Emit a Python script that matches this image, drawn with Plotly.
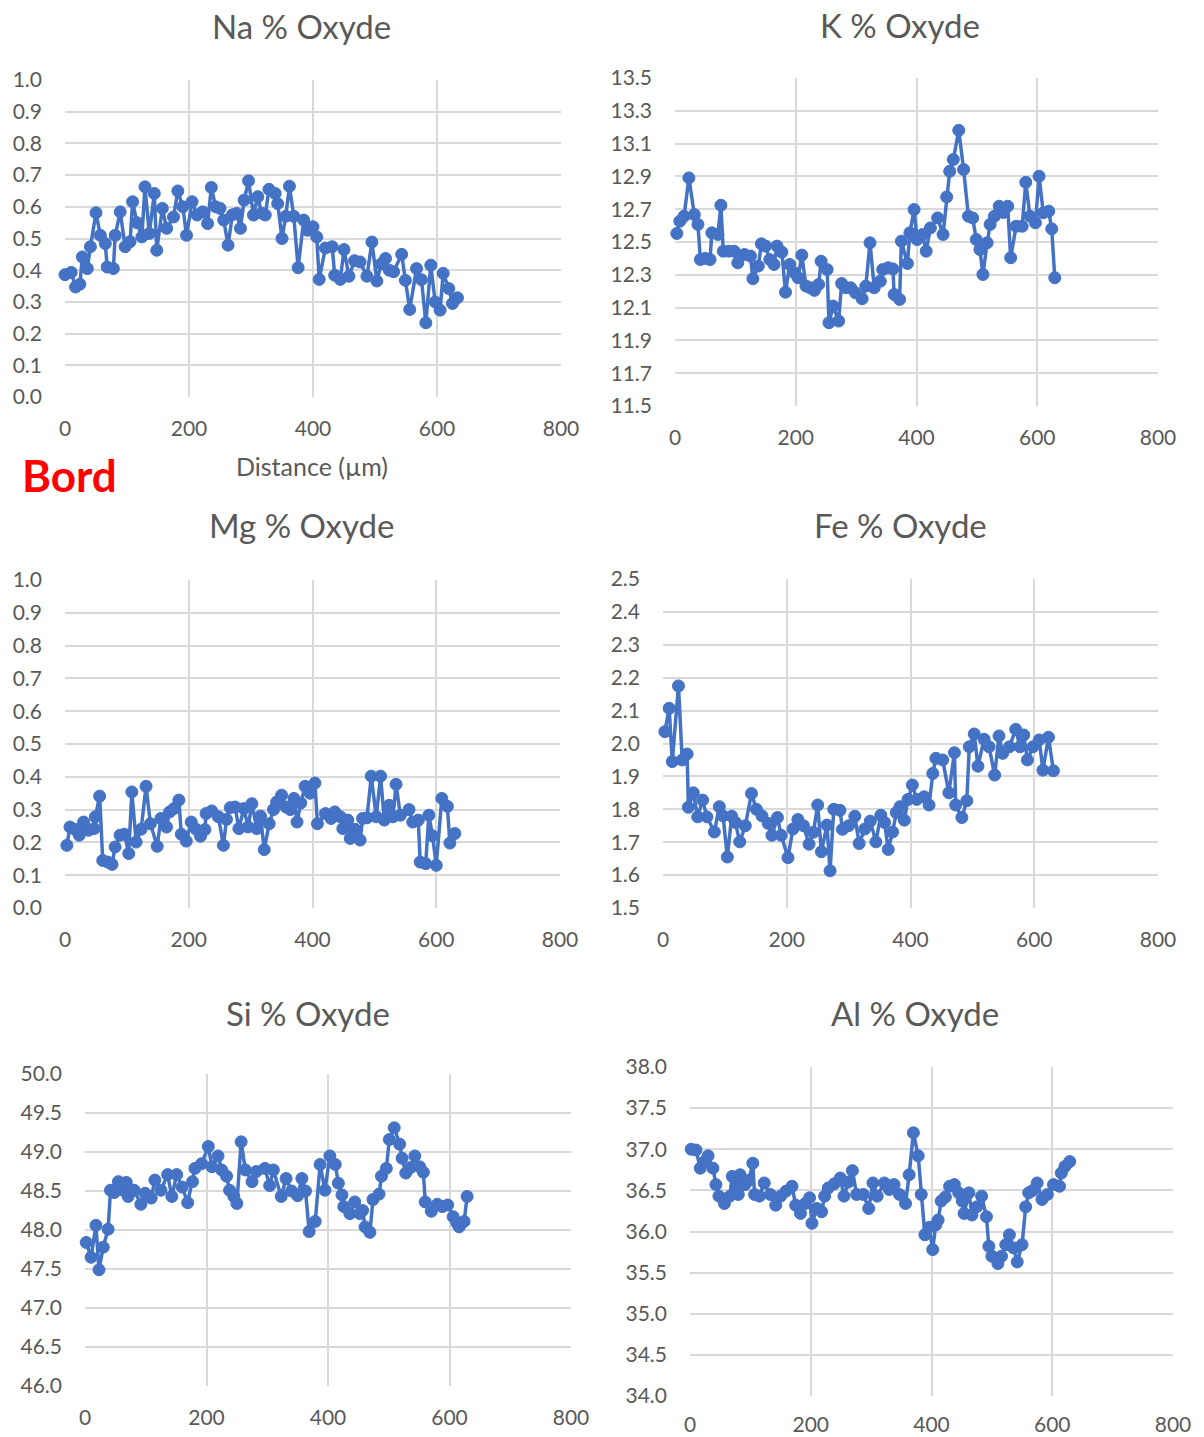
import plotly.graph_objects as go

W, H = 1204, 1437

# ---------------- data ----------------
na_x = [0, 10, 17, 24, 28, 36, 41, 50, 57, 65, 68, 78, 81, 89, 97, 105, 109, 116, 124, 129,
        136, 144, 148, 157, 164, 175, 182, 190, 196, 205, 213, 222, 230, 236, 243, 250, 256, 263, 270, 277,
        283, 289, 296, 304, 311, 317, 323, 329, 339, 343, 350, 356, 362, 369, 376, 385, 391, 400, 406, 410,
        420, 431, 435, 444, 450, 458, 467, 476, 487, 495, 503, 510, 517, 523, 530, 543, 549, 556, 567, 575,
        582, 590, 597, 605, 610, 619, 625, 633]
na_y = [0.386, 0.393, 0.347, 0.356, 0.442, 0.405, 0.474, 0.581, 0.51, 0.484,
        0.41, 0.405, 0.51, 0.584, 0.474, 0.49, 0.616, 0.55, 0.505, 0.663,
        0.516, 0.642, 0.463, 0.595, 0.532, 0.568, 0.65, 0.60, 0.51, 0.616,
        0.574, 0.584, 0.547, 0.661, 0.60, 0.595, 0.558, 0.479, 0.575, 0.579,
        0.532, 0.621, 0.682, 0.574, 0.632, 0.58, 0.574, 0.655, 0.642, 0.61,
        0.50, 0.57, 0.665, 0.57, 0.408, 0.558, 0.526, 0.537, 0.505, 0.371,
        0.47, 0.474, 0.384, 0.371, 0.465, 0.381, 0.43, 0.426, 0.381, 0.489,
        0.366, 0.42, 0.437, 0.40, 0.395, 0.45, 0.368, 0.276, 0.405, 0.37,
        0.234, 0.416, 0.30, 0.274, 0.39, 0.342, 0.295, 0.313]

k_x = [3, 8, 15, 23, 32, 38, 42, 50, 58, 61, 71, 76, 80, 89, 98, 104, 115, 125, 129, 138,
       143, 150, 157, 164, 169, 177, 183, 190, 198, 204, 210, 217, 224, 231, 238, 242, 252, 255, 262, 271,
       276, 283, 291, 299, 310, 316, 323, 330, 340, 344, 353, 361, 363, 372, 375, 385, 389, 396, 401, 410,
       416, 423, 435, 444, 450, 455, 461, 470, 478, 486, 493, 499, 505, 510, 517, 522, 529, 537, 544, 551,
       556, 565, 575, 581, 588, 597, 603, 610, 619, 624, 629]
k_y = [12.552, 12.627, 12.657, 12.891, 12.667, 12.607, 12.393, 12.40, 12.393, 12.556,
       12.546, 12.724, 12.444, 12.444, 12.444, 12.373, 12.424, 12.414, 12.276, 12.353,
       12.489, 12.475, 12.393, 12.363, 12.475, 12.438, 12.194, 12.363, 12.312, 12.282,
       12.42, 12.231, 12.221, 12.205, 12.241, 12.383, 12.332, 12.008, 12.109, 12.018,
       12.247, 12.221, 12.221, 12.19, 12.154, 12.231, 12.495, 12.221, 12.261, 12.332,
       12.343, 12.336, 12.18, 12.15, 12.505, 12.369, 12.556, 12.698, 12.515, 12.546,
       12.444, 12.586, 12.647, 12.546, 12.775, 12.931, 13.003, 13.181, 12.942, 12.657,
       12.647, 12.515, 12.454, 12.302, 12.495, 12.607, 12.657, 12.718, 12.68, 12.718,
       12.404, 12.596, 12.596, 12.864, 12.657, 12.617, 12.901, 12.678, 12.688, 12.58,
       12.282]

mg_x = [3, 8, 16, 23, 30, 38, 47, 49, 56, 61, 69, 76, 81, 89, 96, 103, 108, 115, 123, 131,
        138, 149, 155, 164, 169, 176, 184, 188, 196, 204, 212, 219, 226, 228, 237, 248, 256, 261, 267, 275,
        281, 289, 296, 302, 310, 316, 322, 330, 337, 342, 350, 357, 364, 370, 375, 381, 388, 396, 404, 408,
        421, 430, 436, 445, 449, 457, 461, 469, 477, 481, 488, 495, 503, 510, 516, 524, 530, 535, 542, 556,
        562, 571, 574, 583, 588, 594, 600, 609, 618, 622, 630]
mg_y = [0.191, 0.247, 0.24, 0.222, 0.262, 0.237, 0.242, 0.278, 0.341, 0.145,
        0.14, 0.133, 0.186, 0.222, 0.225, 0.166, 0.354, 0.201, 0.24, 0.371,
        0.257, 0.188, 0.273, 0.247, 0.293, 0.303, 0.329, 0.225, 0.204, 0.262,
        0.24, 0.219, 0.239, 0.288, 0.296, 0.278, 0.191, 0.27, 0.306, 0.308,
        0.242, 0.303, 0.247, 0.318, 0.242, 0.28, 0.178, 0.257, 0.30, 0.323,
        0.344, 0.308, 0.30, 0.334, 0.262, 0.32, 0.371, 0.35, 0.381, 0.257,
        0.288, 0.273, 0.293, 0.278, 0.242, 0.268, 0.212, 0.24, 0.207, 0.273,
        0.275, 0.402, 0.278, 0.402, 0.268, 0.313, 0.278, 0.377, 0.283, 0.3,
        0.262, 0.268, 0.14, 0.135, 0.283, 0.22, 0.13, 0.334, 0.31, 0.198,
        0.227]

fe_x = [3, 10, 15, 25, 31, 39, 41, 49, 56, 64, 71, 83, 91, 97, 104, 111, 117, 124, 133, 143,
        151, 160, 170, 176, 185, 191, 202, 210, 218, 227, 236, 243, 250, 256, 265, 270, 276, 286, 290, 300,
        310, 317, 326, 335, 344, 352, 358, 364, 371, 377, 383, 390, 396, 403, 410, 422, 430, 436, 441, 452,
        462, 471, 473, 483, 491, 495, 503, 509, 519, 527, 536, 543, 549, 560, 570, 577, 583, 589, 598, 608,
        614, 623, 631]
fe_y = [2.036, 2.107, 1.945, 2.175, 1.95, 1.968, 1.806, 1.85, 1.777, 1.828,
        1.777, 1.731, 1.808, 1.78, 1.655, 1.779, 1.76, 1.701, 1.75, 1.848,
        1.80, 1.78, 1.757, 1.721, 1.775, 1.721, 1.653, 1.74, 1.769, 1.75,
        1.694, 1.73, 1.813, 1.671, 1.752, 1.613, 1.8, 1.797, 1.739, 1.75,
        1.779, 1.696, 1.74, 1.764, 1.701, 1.782, 1.76, 1.678, 1.731, 1.79,
        1.808, 1.767, 1.83, 1.874, 1.83, 1.838, 1.813, 1.909, 1.955, 1.95,
        1.85, 1.972, 1.813, 1.775, 1.826, 1.99, 2.029, 1.931, 2.013, 1.99,
        1.904, 2.023, 1.97, 1.99, 2.043, 1.99, 2.026, 1.95, 1.99, 2.011,
        1.919, 2.019, 1.917]

si_x = [2, 10, 18, 23, 30, 38, 42, 48, 55, 63, 68, 71, 81, 92, 99, 109, 115, 125, 136, 143,
        151, 160, 169, 177, 181, 192, 203, 209, 219, 225, 233, 238, 245, 250, 257, 264, 275, 282, 296, 304,
        310, 323, 331, 340, 350, 357, 363, 369, 379, 387, 395, 403, 412, 417, 423, 426, 436, 444, 452, 457,
        461, 469, 474, 484, 488, 496, 501, 509, 518, 522, 528, 536, 543, 551, 557, 560, 570, 580, 588, 597,
        606, 612, 616, 624, 629]
si_y = [47.84, 47.65, 48.06, 47.49, 47.78, 48.01, 48.51, 48.48, 48.62, 48.51,
        48.61, 48.43, 48.51, 48.33, 48.47, 48.41, 48.64, 48.51, 48.71, 48.43,
        48.71, 48.55, 48.35, 48.62, 48.79, 48.85, 49.07, 48.81, 48.95, 48.77,
        48.69, 48.51, 48.43, 48.34, 49.13, 48.77, 48.62, 48.75, 48.79, 48.57,
        48.77, 48.43, 48.66, 48.5, 48.44, 48.66, 48.5, 47.98, 48.11, 48.84,
        48.51, 48.95, 48.84, 48.6, 48.45, 48.3, 48.21, 48.36, 48.21, 48.25,
        48.04, 47.97, 48.39, 48.46, 48.69, 48.79, 49.16, 49.31, 49.10, 48.92,
        48.73, 48.8, 48.95, 48.81, 48.74, 48.36, 48.24, 48.33, 48.3, 48.32,
        48.17, 48.09, 48.04, 48.11, 48.43]

al_x = [2, 10, 17, 24, 30, 38, 43, 48, 57, 66, 70, 76, 80, 83, 91, 97, 104, 107, 115, 123,
        133, 142, 150, 159, 169, 175, 183, 191, 198, 202, 210, 218, 223, 229, 239, 249, 255, 262, 269, 276,
        287, 296, 303, 310, 322, 330, 338, 347, 357, 363, 370, 378, 383, 389, 396, 402, 407, 411, 416, 423,
        430, 438, 445, 451, 454, 462, 467, 475, 483, 491, 495, 500, 510, 516, 523, 529, 536, 542, 550, 556,
        561, 568, 575, 583, 592, 602, 612, 615, 621, 629]
al_y = [37.0, 36.99, 36.77, 36.85, 36.92, 36.77, 36.57, 36.43, 36.34, 36.43,
        36.67, 36.55, 36.45, 36.69, 36.57, 36.62, 36.83, 36.45, 36.43, 36.59,
        36.45, 36.32, 36.43, 36.49, 36.55, 36.32, 36.22, 36.34, 36.41, 36.1,
        36.28, 36.24, 36.43, 36.53, 36.58, 36.65, 36.43, 36.6, 36.74, 36.45,
        36.45, 36.28, 36.59, 36.43, 36.59, 36.51, 36.57, 36.45, 36.34, 36.69,
        37.2, 36.92, 36.45, 35.96, 36.05, 35.78, 36.08, 36.14, 36.37, 36.42,
        36.55, 36.57, 36.47, 36.37, 36.22, 36.47, 36.2, 36.3, 36.43, 36.18,
        35.82, 35.7, 35.61, 35.7, 35.84, 35.96, 35.8, 35.63, 35.84, 36.3,
        36.47, 36.5, 36.59, 36.39, 36.45, 36.57, 36.55, 36.71, 36.79, 36.85]

titles = ["Na % Oxyde", "K % Oxyde", "Mg % Oxyde", "Fe % Oxyde", "Si % Oxyde", "Al % Oxyde"]
x_ticks = [0, 200, 400, 600, 800]
y_ranges = [(0.0, 1.0, 0.1), (11.5, 13.5, 0.2), (0.0, 1.0, 0.1),
            (1.5, 2.5, 0.1), (46.0, 50.0, 0.5), (34.0, 38.0, 0.5)]
series = [(na_x, na_y), (k_x, k_y), (mg_x, mg_y), (fe_x, fe_y), (si_x, si_y), (al_x, al_y)]

# ---------------- layout (pixel boxes of each plot area) ----------------
# (left, right, top, bottom, title_cx, title_cy, x-label standoff)
boxes = [
    (65, 561, 80, 397, 301, 26, 17),
    (675, 1158, 78, 406, 900, 30, 17),
    (65, 560, 580, 908, 301, 525, 17),
    (663, 1158, 579, 908, 900, 525, 17),
    (85, 571, 1074, 1386, 308, 1013, 17),
    (690, 1173, 1067, 1396, 915, 1013, 14),
]
# the K title is cut at its top in the picture: clip window in pixels (left, right, top, bottom)
k_title_clip = (760, 1040, 13, 60)

BLUE = "#4472C4"
GRID = "#D9D9D9"
TXT = "#595959"
FONT = "Lato"

fig = go.Figure()
layout = dict(
    width=W, height=H,
    margin=dict(l=0, r=0, t=0, b=0, autoexpand=False),
    paper_bgcolor="white", plot_bgcolor="white",
    showlegend=False,
    font=dict(family=FONT, color=TXT, size=21),
)
annotations = []

for i, ((xs, ys), box, title, yr) in enumerate(zip(series, boxes, titles, y_ranges)):
    n = min(len(xs), len(ys))
    idx = "" if i == 0 else str(i + 1)
    left, right, top, bottom, tcx, tcy, xso = box
    fig.add_trace(go.Scatter(
        x=xs[:n], y=ys[:n], mode="lines+markers",
        line=dict(color=BLUE, width=3.5),
        marker=dict(color=BLUE, size=12, line=dict(color=BLUE, width=1)),
        xaxis="x" + idx, yaxis="y" + idx, hoverinfo="x+y",
        cliponaxis=False,
    ))
    layout["xaxis" + idx] = dict(
        domain=[left / W, right / W], anchor="y" + idx, automargin=False,
        range=[0, 800], tickvals=x_ticks,
        showgrid=True, gridcolor=GRID, gridwidth=2,
        zeroline=False, showline=False, ticks="",
        ticklabelstandoff=xso,
        tickfont=dict(family=FONT, size=21, color=TXT),
    )
    y0, y1, dt = yr
    layout["yaxis" + idx] = dict(
        domain=[1 - bottom / H, 1 - top / H], anchor="x" + idx, automargin=False,
        range=[y0, y1], tick0=y0, dtick=dt, tickformat=".1f",
        showgrid=True, gridcolor=GRID, gridwidth=2,
        zeroline=False, showline=False, ticks="",
        ticklabelstandoff=22,
        tickfont=dict(family=FONT, size=21, color=TXT),
    )
    if i == 1:
        # K title drawn as clipped text in its own invisible pixel-unit subplot
        cl, cr, ct, cb = k_title_clip
        fig.add_trace(go.Scatter(
            x=[tcx], y=[tcy], mode="text", text=[title],
            textposition="middle center",
            textfont=dict(family=FONT, size=33, color=TXT),
            xaxis="x7", yaxis="y7", hoverinfo="skip", cliponaxis=True,
        ))
        layout["xaxis7"] = dict(domain=[cl / W, cr / W], anchor="y7", range=[cl, cr],
                                visible=False, fixedrange=True, automargin=False)
        layout["yaxis7"] = dict(domain=[1 - cb / H, 1 - ct / H], anchor="x7", range=[cb, ct],
                                visible=False, fixedrange=True, automargin=False)
    else:
        annotations.append(dict(
            text=title, x=tcx / W, y=1 - tcy / H, xref="paper", yref="paper",
            xanchor="center", yanchor="middle", showarrow=False,
            font=dict(family=FONT, size=33, color=TXT),
        ))

annotations.append(dict(
    text="Distance (µm)", x=312 / W, y=1 - 466 / H, xref="paper", yref="paper",
    xanchor="center", yanchor="middle", showarrow=False,
    font=dict(family=FONT, size=25, color=TXT),
))
annotations.append(dict(
    text="<b>Bord</b>", x=69 / W, y=1 - 475 / H, xref="paper", yref="paper",
    xanchor="center", yanchor="middle", showarrow=False,
    font=dict(family=FONT, size=44, color="#FF0000"),
))
layout["annotations"] = annotations
fig.update_layout(**layout)
# remove the browser's default 8px body margin so the figure fills the window exactly
fig.write_html("out.html",
               config={"displayModeBar": False},
               post_script="document.body.style.margin='0';document.body.style.overflow='hidden';")
